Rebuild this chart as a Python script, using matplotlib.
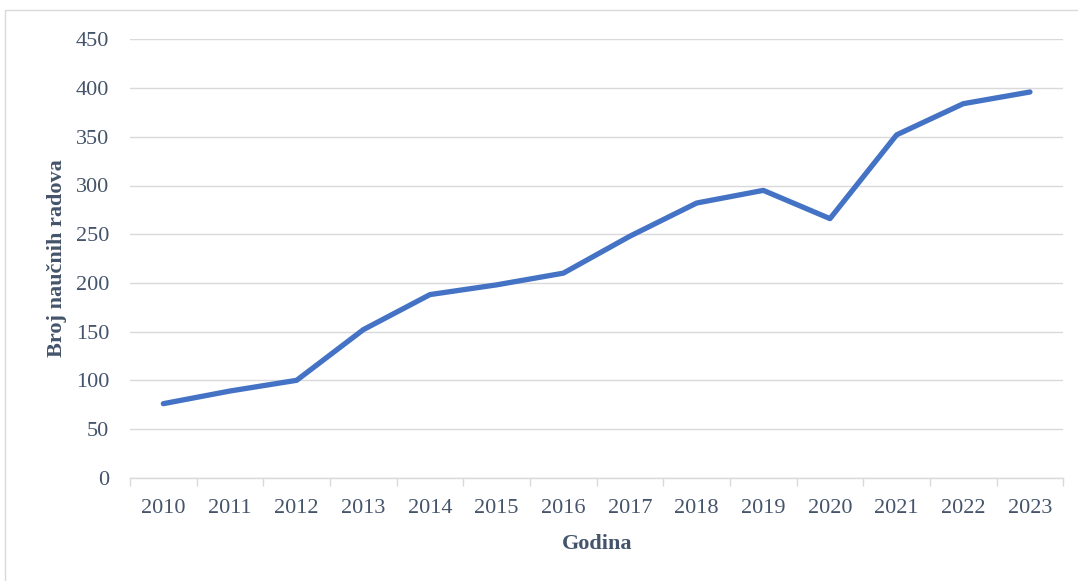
import matplotlib.pyplot as plt
from matplotlib.patches import Rectangle

# broj radova po godini
godine = ['2010', '2011', '2012', '2013', '2014', '2015', '2016',
          '2017', '2018', '2019', '2020', '2021', '2022', '2023']
radovi = [76, 89, 100, 152, 188, 198, 210, 248, 282, 295, 266, 352, 384, 396]

boja_teksta = '#44546A'
boja_linije = '#4472C4'
boja_mreze = '#D9D9D9'

plt.rcParams['font.family'] = ['Liberation Serif', 'DejaVu Serif']

fig = plt.figure(figsize=(10.78, 5.81), dpi=100)
ax = fig.add_axes([130 / 1078, 1 - 477.7 / 581, (1063.3 - 130) / 1078, (477.7 - 39.4) / 581])

x = list(range(len(godine)))
ax.plot(x, radovi, color=boja_linije, linewidth=3.8, solid_capstyle='round', solid_joinstyle='round')

ax.set_xlim(-0.5, len(godine) - 0.5)
ax.set_ylim(0, 450)
ax.set_yticks(range(0, 451, 50))
ax.set_xticks(x)
ax.set_xticklabels(godine)

# kategorijske crtice izmedju godina
ax.set_xticks([i - 0.5 for i in range(len(godine) + 1)], minor=True)
ax.tick_params(axis='x', which='major', length=0, pad=15.5, labelsize=16, labelcolor=boja_teksta)
ax.tick_params(axis='x', which='minor', length=6, width=1, color=boja_mreze)
ax.tick_params(axis='y', length=0, pad=15, labelsize=16, labelcolor=boja_teksta)

ax.grid(axis='y', color=boja_mreze, linewidth=1)
ax.set_axisbelow(True)
for s in ['top', 'right', 'left']:
    ax.spines[s].set_visible(False)
ax.spines['bottom'].set_color(boja_mreze)
ax.spines['bottom'].set_linewidth(1)

ax.set_xlabel('Godina', fontsize=16, fontweight='bold', color=boja_teksta, labelpad=11)
ax.set_ylabel('Broj naučnih radova', fontsize=16, fontweight='bold', color=boja_teksta, labelpad=6)

# okvir oko grafikona (desna i donja ivica su izvan slike)
fig.patches.append(Rectangle((5 / 1078, -0.05), 1.1, 1.05 - 10 / 581, transform=fig.transFigure,
                             fill=False, edgecolor='#D9D9D9', linewidth=1))

fig.savefig('out.png', dpi=100)
